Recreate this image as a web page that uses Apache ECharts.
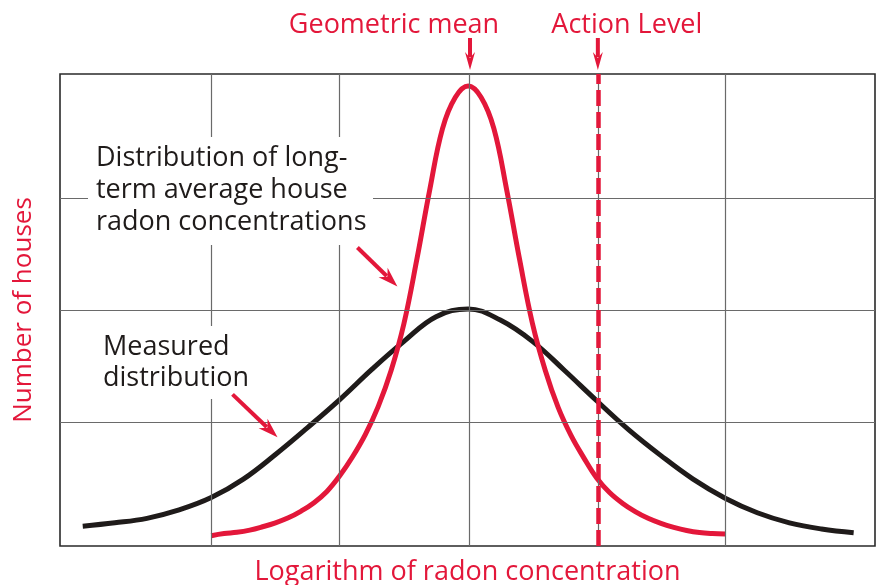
<!DOCTYPE html>
<html><head><meta charset="utf-8">
<script src="https://cdn.jsdelivr.net/npm/echarts/dist/echarts.min.js"></script>
<style>html,body{margin:0;padding:0;background:#fff}#c{width:878px;height:585px}</style>
</head><body><div id="c"></div>
<script>
// x: log of radon concentration (grid units), y: number of houses (grid units)
const measuredX = [0, 0.25, 0.5, 0.75, 1.0, 1.25, 1.5, 1.75, 2.0, 2.25, 2.5, 2.75, 3.0, 3.25, 3.5, 3.75, 4.0, 4.25, 4.5, 4.75, 5.0, 5.25, 5.5, 5.75, 6.0];
const measuredY = [0.07, 0.10, 0.14, 0.215, 0.325, 0.49, 0.71, 0.95, 1.20, 1.47, 1.72, 1.94, 2.01, 1.91, 1.72, 1.46, 1.19, 0.93, 0.70, 0.49, 0.32, 0.19, 0.10, 0.045, 0.012];
const longTermX = [1.0, 1.1, 1.2, 1.3, 1.4, 1.5, 1.6, 1.7, 1.8, 1.9, 2.0, 2.1, 2.2, 2.3, 2.4, 2.5, 2.6, 2.7, 2.8, 2.9, 3.0, 3.1, 3.2, 3.3, 3.4, 3.5, 3.6, 3.7, 3.8, 3.9, 4.0, 4.1, 4.2, 4.3, 4.4, 4.5, 4.6, 4.7, 4.8, 4.9, 5.0];
const longTermY = [-0.015, 0.004, 0.015, 0.035, 0.065, 0.10, 0.145, 0.205, 0.28, 0.38, 0.52, 0.69, 0.89, 1.14, 1.46, 1.88, 2.45, 3.07, 3.62, 3.90, 4.00, 3.90, 3.62, 3.07, 2.45, 1.88, 1.46, 1.13, 0.88, 0.68, 0.50, 0.37, 0.275, 0.20, 0.14, 0.095, 0.06, 0.032, 0.013, 0.004, 0.0];
const gridX = [1, 2, 3.014, 4.009, 5];
const gridY = [1, 2, 3];
const geometricMean = 3.014;
const actionLevel = 4.009;
const xRange = [-0.177, 6.166];
const yRange = [-0.107, 4.107];
const xAxisTitle = 'Logarithm of radon concentration';
const yAxisTitle = 'Number of houses';
const topLabels = ['Geometric mean', 'Action Level'];
const noteLongTerm = ['Distribution of long-', 'term average house', 'radon concentrations'];
const noteMeasured = ['Measured', 'distribution'];
// arrow tips for notes, in data units
const noteLongTermTip = [2.449, 2.210];
const noteMeasuredTip = [1.516, 0.863];

const RED = '#e3173a';
const BLACK = '#1f1b1a';
const FONT = '"Open Sans", Lato, sans-serif';

const chart = echarts.init(document.getElementById('c'), null, {renderer: 'canvas'});
const zip = (xs, ys) => xs.map((x, i) => [x, ys[i]]);

chart.setOption({
  animation: false,
  backgroundColor: '#fff',
  grid: {left: 60, right: 3, top: 74, bottom: 39, outerBoundsMode: 'none', containLabel: false, show: true, borderColor: '#2a2a2a', borderWidth: 1.6, backgroundColor: 'transparent'},
  xAxis: {
    type: 'value', min: xRange[0], max: xRange[1],
    axisLine: {show: false}, axisTick: {show: false}, axisLabel: {show: false}, splitLine: {show: false},
    name: xAxisTitle, nameLocation: 'middle', nameGap: 13,
    nameTextStyle: {color: RED, fontSize: 27, fontFamily: FONT, verticalAlign: 'top'}
  },
  yAxis: {
    type: 'value', min: yRange[0], max: yRange[1],
    axisLine: {show: false}, axisTick: {show: false}, axisLabel: {show: false}, splitLine: {show: false},
    name: yAxisTitle, nameLocation: 'middle', nameGap: 23,
    nameTextStyle: {color: RED, fontSize: 26, fontFamily: FONT}
  },
  series: [
    {
      type: 'line', data: [], z: 1, silent: true,
      markLine: {
        silent: true, symbol: 'none', animation: false,
        label: {show: false},
        lineStyle: {color: '#6a6a6a', width: 1.2, type: 'solid'},
        data: gridX.map(v => ({xAxis: v})).concat(gridY.map(v => ({yAxis: v})))
      }
    },
    {
      name: 'Measured distribution', type: 'line', smooth: 0.4, showSymbol: false, z: 3,
      lineStyle: {color: BLACK, width: 5}, data: zip(measuredX, measuredY)
    },
    {
      name: 'Long-term distribution', type: 'line', smooth: 0.4, showSymbol: false, z: 4,
      lineStyle: {color: RED, width: 5}, data: zip(longTermX, longTermY)
    },
    {
      type: 'line', data: [], z: 5, silent: true,
      markLine: {
        silent: true, symbol: 'none', animation: false, label: {show: false},
        lineStyle: {color: RED, width: 4.5, type: [16, 6]},
        data: [{xAxis: actionLevel}]
      }
    }
  ]
});

function arrow(x1, y1, x2, y2, headLen, headW, w) {
  const dx = x2 - x1, dy = y2 - y1, L = Math.hypot(dx, dy);
  const ux = dx / L, uy = dy / L, px = -uy, py = ux;
  const bx = x2 - ux * headLen, by = y2 - uy * headLen;
  return [
    {type: 'line', z: 100, shape: {x1, y1, x2: bx + ux * 2, y2: by + uy * 2}, style: {stroke: RED, lineWidth: w}},
    {type: 'polygon', z: 100, shape: {points: [[x2, y2], [bx + px * headW / 2 - ux * 3, by + py * headW / 2 - uy * 3], [bx + ux * 3, by + uy * 3], [bx - px * headW / 2 - ux * 3, by - py * headW / 2 - uy * 3]]}, style: {fill: RED}}
  ];
}

const gm = chart.convertToPixel({gridIndex: 0}, [geometricMean, yRange[1]]);
const al = chart.convertToPixel({gridIndex: 0}, [actionLevel, yRange[1]]);
const t1 = chart.convertToPixel({gridIndex: 0}, noteLongTermTip);
const t2 = chart.convertToPixel({gridIndex: 0}, noteMeasuredTip);

const graphics = [];
graphics.push({type: 'text', z: 100, style: {text: topLabels[0], x: gm[0] - 76, y: 39, textAlign: 'center', textVerticalAlign: 'bottom', font: '27px ' + FONT, fill: RED}});
graphics.push({type: 'text', z: 100, style: {text: topLabels[1], x: al[0] + 29, y: 39, textAlign: 'center', textVerticalAlign: 'bottom', font: '27px ' + FONT, fill: RED}});
graphics.push(...arrow(gm[0], 38, gm[0], gm[1] - 4, 15, 10, 4));
graphics.push(...arrow(al[0], 38, al[0], al[1] - 4, 15, 10, 4));
// note boxes
graphics.push({type: 'rect', z: 99, shape: {x: 88, y: 137, width: 285, height: 108}, style: {fill: '#fff'}});
graphics.push({type: 'text', z: 100, style: {text: noteLongTerm.join('\n'), x: 96, y: 142, font: '27px ' + FONT, lineHeight: 32, fill: BLACK}});
graphics.push({type: 'rect', z: 99, shape: {x: 96, y: 326, width: 158, height: 73}, style: {fill: '#fff'}});
graphics.push({type: 'text', z: 100, style: {text: noteMeasured.join('\n'), x: 103, y: 332, font: '27px ' + FONT, lineHeight: 31, fill: BLACK}});
graphics.push(...arrow(t1[0] - 40, t1[1] - 39, t1[0], t1[1], 17, 13, 4));
graphics.push(...arrow(t2[0] - 45, t2[1] - 43, t2[0], t2[1], 17, 13, 4));

chart.setOption({graphic: graphics});
</script></body></html>
